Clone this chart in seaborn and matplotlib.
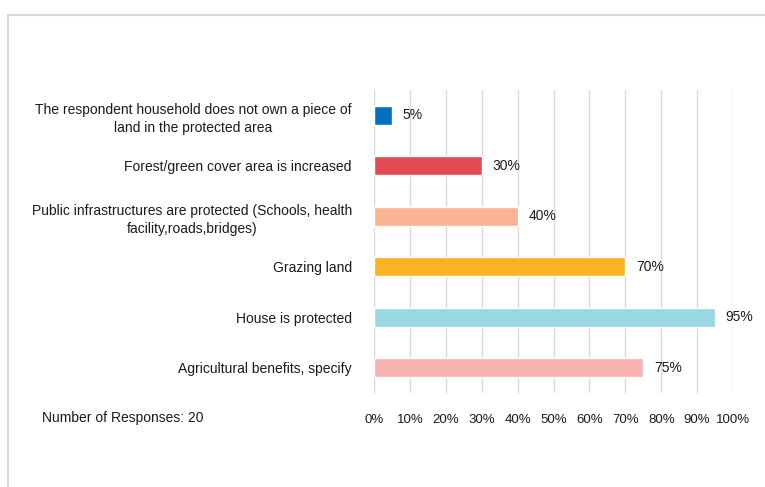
import matplotlib
matplotlib.use("Agg")
import matplotlib.pyplot as plt
import seaborn as sns
import pandas as pd
from matplotlib.patches import Rectangle

categories = [
    "The respondent household does not own a piece of\nland in the protected area",
    "Forest/green cover area is increased",
    "Public infrastructures are protected (Schools, health\nfacility,roads,bridges)",
    "Grazing land",
    "House is protected",
    "Agricultural benefits, specify",
]
values = [5, 30, 40, 70, 95, 75]
colors = ["#0070C0", "#E34B53", "#F9B592", "#FBB322", "#9AD8E1", "#F6B3B1"]
tick_values = list(range(0, 101, 10))
tick_labels = [f"{v}%" for v in tick_values]
responses_note = "Number of Responses: 20"

sns.set_theme(style="white")
plt.rcParams["font.family"] = ["Liberation Sans", "DejaVu Sans"]

FS = 10
TXT = "#1a1a1a"

fig = plt.figure(figsize=(7.65, 4.87), dpi=100)
fig.patch.set_facecolor("white")

# light outer frame that runs off the right and bottom edges
fig.patches.append(Rectangle((8 / 765, -0.1), 1.2, 1 - 15 / 487 + 0.1,
                             transform=fig.transFigure, fill=False,
                             edgecolor="#d9d9d9", linewidth=1.5, zorder=0))

ax = fig.add_axes([374 / 765, 1 - 393 / 487, (733 - 374) / 765, (393 - 90) / 487])

df = pd.DataFrame({"category": categories, "value": values})
sns.barplot(data=df, x="value", y="category", hue="category",
            palette=colors, orient="h", width=0.38, legend=False,
            ax=ax, zorder=3, saturation=1)

ax.set_xlim(0, 100)
ax.set_xticks(tick_values)
ax.set_xticklabels(tick_labels, fontsize=9.5, color=TXT)
ax.tick_params(axis="x", length=0, pad=15)
ax.tick_params(axis="y", length=0, pad=16)
ax.set_yticks(range(len(categories)))
ax.set_yticklabels(categories, fontsize=FS, color=TXT, ha="right",
                   multialignment="center", linespacing=1.4)
ax.set_xlabel("")
ax.set_ylabel("")
for s in ax.spines.values():
    s.set_visible(False)
ax.grid(axis="x", color="#d9d9d9", linewidth=1, zorder=0)
ax.grid(axis="y", visible=False)
ax.set_axisbelow(True)

for i, v in enumerate(values):
    ax.text(v + 3.0, i, f"{v}%", va="center", ha="left", fontsize=FS,
            color=TXT)

fig.text(42 / 765, 1 - 418 / 487, responses_note, ha="left", va="center",
         fontsize=FS, color=TXT)

fig.savefig("out.png", dpi=100, facecolor="white")
